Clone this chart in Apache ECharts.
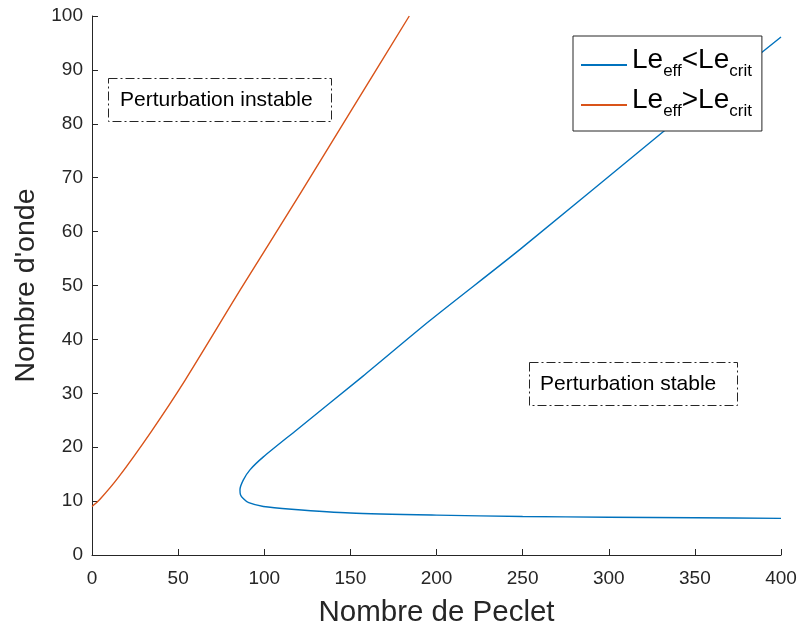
<!DOCTYPE html>
<html>
<head>
<meta charset="utf-8">
<script src="https://cdn.jsdelivr.net/npm/echarts@6/dist/echarts.min.js"></script>
<style>html,body{margin:0;padding:0;background:#fff}#c{width:800px;height:628px}</style>
</head>
<body>
<div id="c"></div>
<script>
// Data
const xTicks = [0, 50, 100, 150, 200, 250, 300, 350, 400];
const yTicks = [0, 10, 20, 30, 40, 50, 60, 70, 80, 90, 100];

const orangeName = 'Le_eff>Le_crit';
const orangePe = [0, 4.5, 15.3, 34.6, 54, 86.5, 120.8, 150, 184.2];
const orangeK  = [9.0, 10.3, 14.4, 23.0, 32.4, 49.4, 67.0, 82.2, 100];

const blueName = 'Le_eff<Le_crit';
const bluePe = [400, 350, 300, 250, 200, 150, 115.9, 99.5, 91, 87.8, 86.2, 85.9, 87.8, 91.7, 99.5, 118.8, 157, 196.2, 248.5, 330.7, 400];
const blueK  = [6.8, 6.9, 7.0, 7.15, 7.4, 7.8, 8.5, 9.0, 9.7, 10.5, 11.2, 12.1, 13.9, 15.8, 18.2, 23.2, 33.1, 43.5, 56.7, 78.3, 96.1];

const labelInstable = 'Perturbation instable';
const labelStable = 'Perturbation stable';
const xName = 'Nombre de Peclet';
const yName = "Nombre d'onde";

const FONT = 'Liberation Sans, Arial, Helvetica, sans-serif';
const AX = '#262626';

function pairs(xs, ys) { return xs.map((x, i) => [x, ys[i]]); }

const chart = echarts.init(document.getElementById('c'), null, {renderer: 'canvas'});

function legendFmt(name) {
  const op = name.indexOf('<') >= 0 ? '<' : '>';
  return '{m|Le}{s|eff}{m|' + op + 'Le}{s|crit}';
}

const option = {
  animation: false,
  backgroundColor: '#ffffff',
  textStyle: {fontFamily: FONT},
  grid: {left: 92, right: 19, top: 16, bottom: 73, containLabel: false, outerBoundsMode: 'none'},
  xAxis: {
    type: 'value', min: 0, max: 400, interval: 50,
    name: xName, nameLocation: 'middle', nameGap: 43,
    nameTextStyle: {fontSize: 29.5, color: AX, fontFamily: FONT},
    axisLine: {show: true, onZero: false, lineStyle: {color: AX, width: 1}},
    axisTick: {show: true, inside: true, length: 6, lineStyle: {color: AX}},
    axisLabel: {fontSize: 19, color: AX, margin: 14, fontFamily: FONT},
    splitLine: {show: false}
  },
  yAxis: {
    type: 'value', min: 0, max: 100, interval: 10,
    name: yName, nameLocation: 'middle', nameGap: 48,
    nameTextStyle: {fontSize: 28.5, color: AX, fontFamily: FONT},
    axisLine: {show: true, onZero: false, lineStyle: {color: AX, width: 1}},
    axisTick: {show: true, inside: true, length: 6, lineStyle: {color: AX}},
    axisLabel: {fontSize: 19, color: AX, margin: 9, fontFamily: FONT},
    splitLine: {show: false}
  },
  legend: {
    orient: 'vertical', left: 573, top: 36,
    padding: [10, 10, 11, 8], itemGap: 6,
    itemWidth: 46, itemHeight: 2, icon: 'rect',
    borderColor: AX, borderWidth: 1, backgroundColor: '#ffffff',
    data: [blueName, orangeName],
    formatter: legendFmt,
    textStyle: {
      fontFamily: FONT, color: '#000', padding: [0, 0, 10, 0],
      rich: {
        m: {fontSize: 28, lineHeight: 40, color: '#000', fontFamily: FONT},
        s: {fontSize: 17, lineHeight: 14, verticalAlign: 'bottom', color: '#000', fontFamily: FONT}
      }
    }
  },
  series: [
    {
      name: blueName, type: 'line', data: pairs(bluePe, blueK),
      smooth: 0.25, symbol: 'none', showSymbol: false,
      lineStyle: {color: '#0072BD', width: 1.4}, itemStyle: {color: '#0072BD'}
    },
    {
      name: orangeName, type: 'line', data: pairs(orangePe, orangeK),
      smooth: 0.3, symbol: 'none', showSymbol: false,
      lineStyle: {color: '#D95319', width: 1.4}, itemStyle: {color: '#D95319'}
    }
  ],
  graphic: [
    {type: 'rect', shape: {x: 108.5, y: 78.5, width: 223, height: 43},
     style: {fill: 'rgba(255,255,255,0)', stroke: AX, lineWidth: 1, lineDash: [9, 3, 2, 3]}, z: 10},
    {type: 'text', x: 120, y: 100,
     style: {text: labelInstable, fontSize: 21, fontFamily: FONT, fill: '#000', verticalAlign: 'middle'}, z: 11},
    {type: 'rect', shape: {x: 529.5, y: 362.5, width: 208, height: 43},
     style: {fill: 'rgba(255,255,255,0)', stroke: AX, lineWidth: 1, lineDash: [9, 3, 2, 3]}, z: 10},
    {type: 'text', x: 540, y: 384,
     style: {text: labelStable, fontSize: 21, fontFamily: FONT, fill: '#000', verticalAlign: 'middle'}, z: 11}
  ]
};
chart.setOption(option);
</script>
</body>
</html>
